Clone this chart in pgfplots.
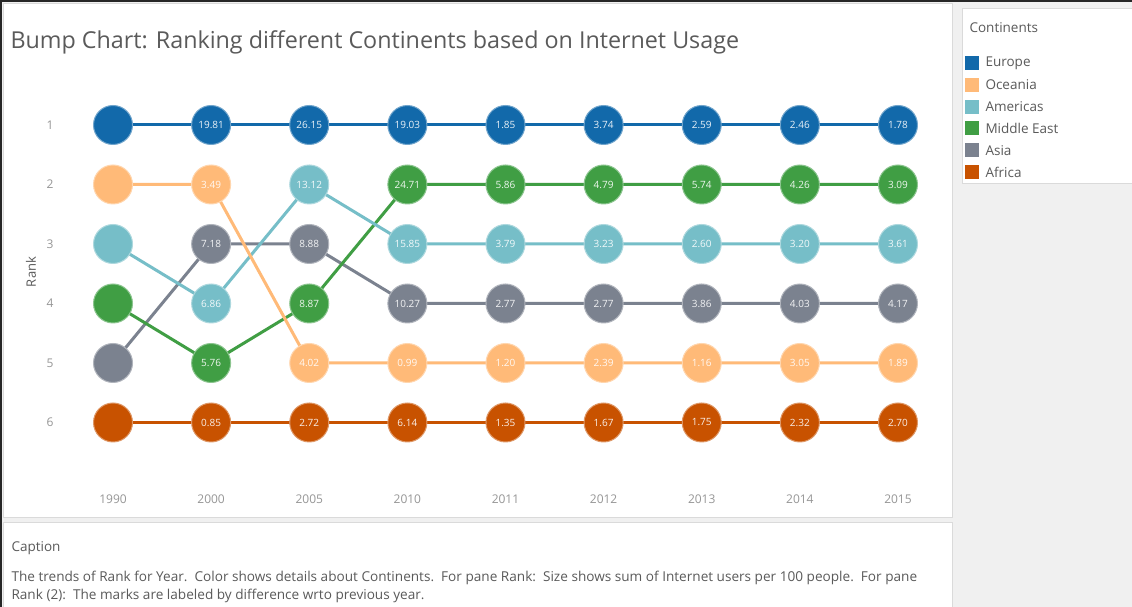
\documentclass[border=0pt]{standalone}
\usepackage{pgfplots}
\pgfplotsset{compat=1.18}
\usepackage{pgfplotstable}
\usepackage{fontspec}
\setmainfont{Open Sans}

\definecolor{europe}{RGB}{18,105,170}
\definecolor{oceania}{RGB}{255,186,120}
\definecolor{americas}{RGB}{118,190,200}
\definecolor{mideast}{RGB}{64,158,68}
\definecolor{asia}{RGB}{123,130,143}
\definecolor{africa}{RGB}{200,82,0}
\definecolor{txt}{RGB}{90,90,90}
\definecolor{ticktxt}{RGB}{150,150,150}
\definecolor{panelbg}{RGB}{240,240,240}
\definecolor{panelline}{RGB}{218,218,218}

% rank and label (difference to previous year) per continent
\pgfplotstableread{
x eu euL oc ocL am amL me meL as asL af afL
0 1 {} 2 {} 3 {} 4 {} 5 {} 6 {}
1 1 19.81 2 3.49 4 6.86 5 5.76 3 7.18 6 0.85
2 1 26.15 5 4.02 2 13.12 4 8.87 3 8.88 6 2.72
3 1 19.03 5 0.99 3 15.85 2 24.71 4 10.27 6 6.14
4 1 1.85 5 1.20 3 3.79 2 5.86 4 2.77 6 1.35
5 1 3.74 5 2.39 3 3.23 2 4.79 4 2.77 6 1.67
6 1 2.59 5 1.16 3 2.60 2 5.74 4 3.86 6 1.75
7 1 2.46 5 3.05 3 3.20 2 4.26 4 4.03 6 2.32
8 1 1.78 5 1.89 3 3.61 2 3.09 4 4.17 6 2.70
}\ranks

\pgfplotsset{
  bumpline/.style={no marks, line width=3pt, color=#1},
  bumpdot/.style={only marks, mark=*, mark size=19.5pt,
    mark options={fill=#1, draw=#1!60!white, line width=1pt},
    nodes near coords, nodes near coords align={center},
    point meta=explicit symbolic,
    every node near coord/.append style={font=\fontsize{10}{11}\selectfont, text=white, text opacity=0.9}},
}

\begin{document}
\begin{tikzpicture}[x=1pt,y=1pt]
\useasboundingbox (0,0) rectangle (1132,607);
% panels
\fill[panelbg] (0,0) rectangle (1132,607);
\filldraw[fill=white, draw=panelline] (3,604) rectangle (952,90);
\filldraw[fill=white, draw=panelline] (3,85) rectangle (952,-1);
\filldraw[fill=white, draw=panelline] (962,599) rectangle (1134,424);
\fill[black!85] (0,0) rectangle (2,607);
\fill[black!85] (0,607) rectangle (1132,605);

\node[anchor=west, text=txt, font=\fontsize{23.3}{28}\selectfont] at (7,565)
  {Bump Chart: Ranking different Continents based on Internet Usage};

\begin{axis}[
  at={(63.94pt,511.75pt)}, anchor=north west,
  scale only axis, width=883.1pt, height=392.7pt,
  xmin=-0.5, xmax=8.5, ymin=0.5, ymax=7.1,
  y dir=reverse, clip=false,
  axis line style={draw=none}, tick style={draw=none},
  xtick={0,...,8},
  xticklabels={1990,2000,2005,2010,2011,2012,2013,2014,2015},
  ytick={1,...,6},
  tick label style={font=\fontsize{12}{14}\selectfont, text=ticktxt},
  yticklabel style={xshift=-7pt},
  xticklabel style={yshift=-3pt},
  /pgf/number format/assume math mode=true,
]
\addplot[bumpline=africa] table[x=x,y=af]{\ranks};
\addplot[bumpline=asia] table[x=x,y=as]{\ranks};
\addplot[bumpline=mideast] table[x=x,y=me]{\ranks};
\addplot[bumpline=americas] table[x=x,y=am]{\ranks};
\addplot[bumpline=oceania] table[x=x,y=oc]{\ranks};
\addplot[bumpline=europe] table[x=x,y=eu]{\ranks};

\addplot[bumpdot=africa] table[x=x,y=af,meta=afL]{\ranks};
\addplot[bumpdot=asia] table[x=x,y=as,meta=asL]{\ranks};
\addplot[bumpdot=mideast] table[x=x,y=me,meta=meL]{\ranks};
\addplot[bumpdot=americas] table[x=x,y=am,meta=amL]{\ranks};
\addplot[bumpdot=oceania] table[x=x,y=oc,meta=ocL]{\ranks};
\addplot[bumpdot=europe] table[x=x,y=eu,meta=euL]{\ranks};
\end{axis}

\node[rotate=90, text=txt, font=\fontsize{13}{15}\selectfont] at (31,335) {Rank};

% legend
\node[anchor=west, text=txt, font=\fontsize{13.5}{15}\selectfont] at (966,579) {Continents};
\foreach \c/\n [count=\i from 0] in {europe/Europe, oceania/Oceania, americas/Americas, mideast/Middle East, asia/Asia, africa/Africa} {
  \fill[\c] (965,537-\i*21.8) rectangle ++(14,14);
  \node[anchor=west, text=txt, font=\fontsize{13.5}{15}\selectfont] at (982,544-\i*21.8) {\n};
}

% caption
\node[anchor=west, text=txt, font=\fontsize{13.5}{15}\selectfont] at (8,59) {Caption};
\node[anchor=west, text=txt, font=\fontsize{13.6}{15}\selectfont] at (8,29)
  {The trends of Rank for Year.\ \ Color shows details about Continents.\ \ For pane Rank:\ \ Size shows sum of Internet users per 100 people.\ \ For pane};
\node[anchor=west, text=txt, font=\fontsize{13.6}{15}\selectfont] at (8,11)
  {Rank (2):\ \ The marks are labeled by difference wrto previous year.};
\end{tikzpicture}
\end{document}
